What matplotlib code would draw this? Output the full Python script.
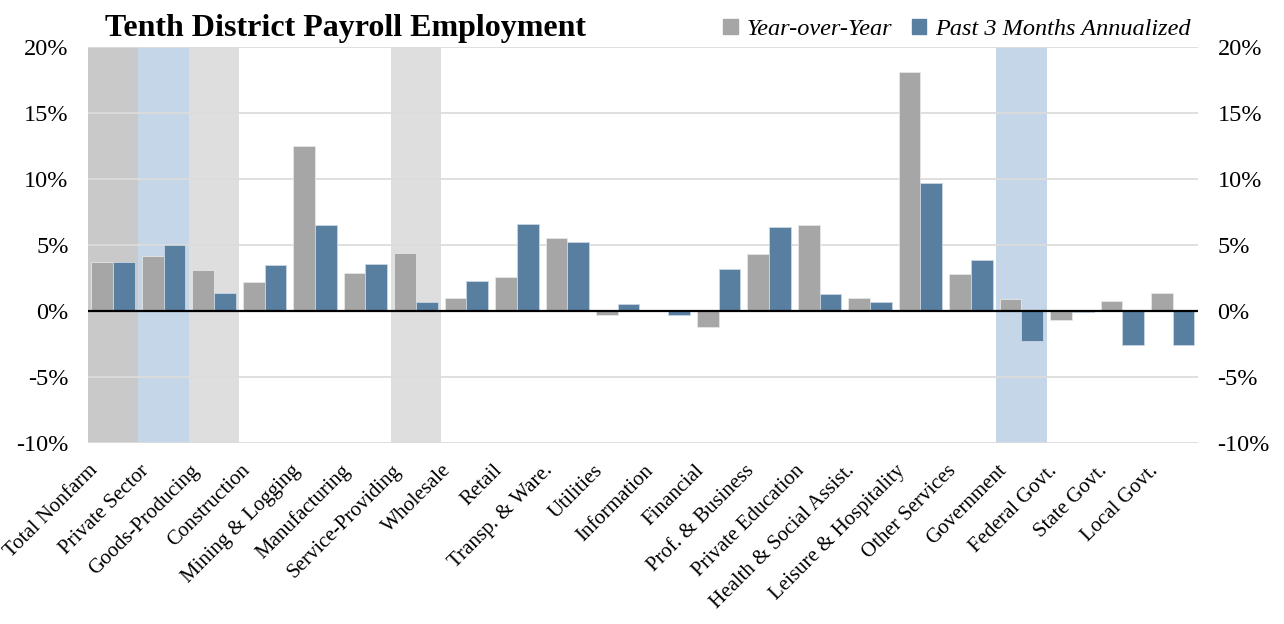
import matplotlib
matplotlib.use('Agg')
import matplotlib.pyplot as plt
import matplotlib.transforms as mtransforms
from matplotlib.patches import Patch
import numpy as np

categories = ['Total Nonfarm', 'Private Sector', 'Goods-Producing', 'Construction',
              'Mining & Logging', 'Manufacturing', 'Service-Providing', 'Wholesale',
              'Retail', 'Transp. & Ware.', 'Utilities', 'Information', 'Financial',
              'Prof. & Business', 'Private Education', 'Health & Social Assist.',
              'Leisure & Hospitality', 'Other Services', 'Government', 'Federal Govt.',
              'State Govt.', 'Local Govt.']
yoy = [3.7, 4.2, 3.1, 2.2, 12.5, 2.9, 4.4, 1.0, 2.6, 5.5, -0.3, 0.0, -1.2,
       4.3, 6.5, 1.0, 18.1, 2.8, 0.9, -0.7, 0.8, 1.4]
past3m = [3.7, 5.0, 1.4, 3.5, 6.5, 3.6, 0.7, 2.3, 6.6, 5.2, 0.5, -0.3, 3.2,
          6.4, 1.3, 0.7, 9.7, 3.9, -2.3, -0.1, -2.6, -2.6]
# shaded category bands (index, colour)
bands = {0: '#C9C9C9', 1: '#C5D6E8', 2: '#DEDEDE', 6: '#DEDEDE', 18: '#C5D6E8'}

plt.rcParams['font.family'] = ['Liberation Serif', 'DejaVu Serif']

fig = plt.figure(figsize=(12.84, 6.24), dpi=100)
ax = fig.add_axes([0.0685, 0.29, 0.8645, 0.6345])

x = np.arange(len(categories))
w = 0.43
ax.set_xlim(-0.5, len(categories) - 0.5)
ax.set_ylim(-10, 20)

for i, c in bands.items():
    ax.axvspan(i - 0.5, i + 0.5, color=c, lw=0, zorder=0)

ax.set_yticks(range(-10, 21, 5))
ax.yaxis.grid(True, color='#DCDCDC', lw=1.3, zorder=0.5)
ax.set_axisbelow(True)

ax.bar(x - w / 2, yoy, w, color='#A6A6A6', edgecolor='#E6E6E6', lw=0.6, zorder=2)
ax.bar(x + w / 2, past3m, w, color='#587EA0', edgecolor='#C9D6E3', lw=0.6, zorder=2)
ax.axhline(0, color='black', lw=1.6, zorder=3)

for s in ax.spines.values():
    s.set_visible(False)
ax.tick_params(length=0)
ax.set_yticklabels([f'{v}%' for v in range(-10, 21, 5)], fontsize=17.5)
ax.tick_params(axis='y', pad=14)

ax.set_xticks(x)
ax.set_xticklabels(categories, rotation=45, ha='right', fontsize=15)
ax.tick_params(axis='x', pad=13)
offset = mtransforms.ScaledTranslation(-11 / 100, 0, fig.dpi_scale_trans)
for lab in ax.get_xticklabels():
    lab.set_transform(lab.get_transform() + offset)

ax2 = ax.twinx()
ax2.set_ylim(-10, 20)
ax2.set_yticks(range(-10, 21, 5))
ax2.set_yticklabels([f'{v}%' for v in range(-10, 21, 5)], fontsize=17.5)
ax2.tick_params(length=0, pad=14)
for s in ax2.spines.values():
    s.set_visible(False)

fig.text(0.082, 0.955, 'Tenth District Payroll Employment', fontsize=23,
         fontweight='bold', va='center', ha='left')

handles = [Patch(color='#A6A6A6', label='Year-over-Year'),
           Patch(color='#587EA0', label='Past 3 Months Annualized')]
fig.legend(handles=handles, loc='center right', bbox_to_anchor=(0.944, 0.953),
           ncol=2, frameon=False, prop={'style': 'italic', 'size': 17.5},
           handlelength=0.6, handleheight=0.6, handletextpad=0.35, columnspacing=0.8)

plt.savefig('out.png', dpi=100)
